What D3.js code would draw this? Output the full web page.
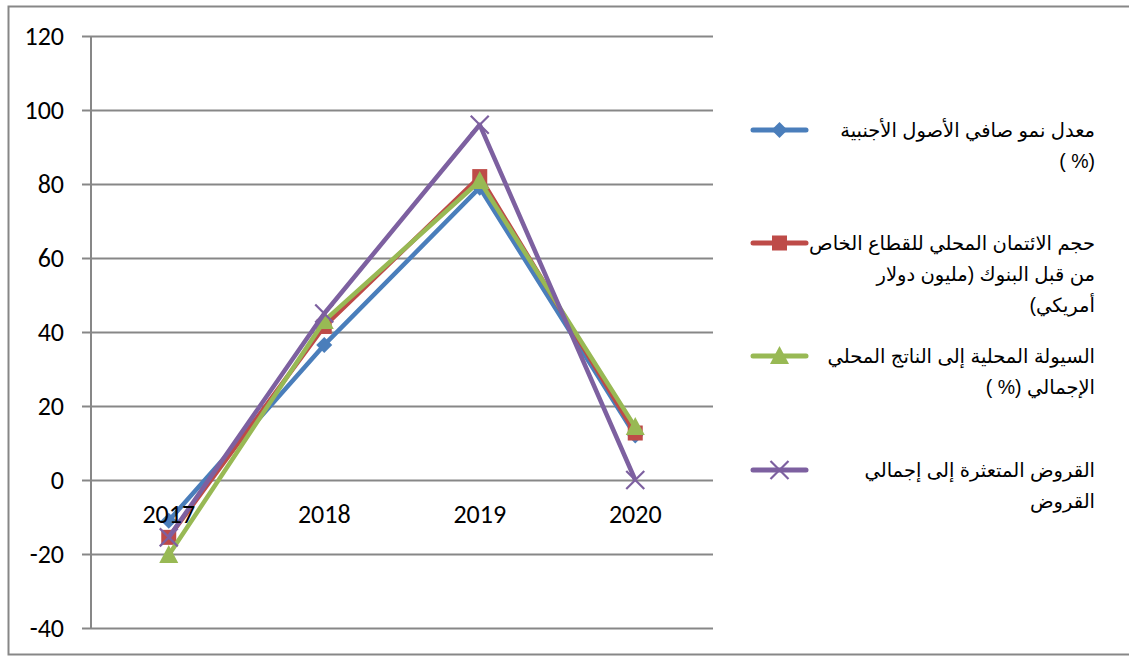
<!DOCTYPE html>
<html>
<head>
<meta charset="utf-8">
<script src="https://cdn.jsdelivr.net/npm/d3@7"></script>
<style>
  html, body { margin: 0; padding: 0; background: #fff; }
  svg { display: block; }
</style>
</head>
<body>
<svg id="chart" width="1129" height="657"></svg>
<script>
// Years on the category axis
const years = ["2017", "2018", "2019", "2020"];
// Y axis ticks
const yTicks = [-40, -20, 0, 20, 40, 60, 80, 100, 120];

// Series values, one array per indicator
const netForeignAssets = [-11, 36.5, 79, 12];
const privateCredit = [-15.5, 41.5, 82, 12.7];
const liquidityToGdp = [-20.3, 43, 80.8, 14.3];
const nplRatio = [-15.5, 45, 96, 0];

// Legend names (each entry is a list of wrapped lines)
const names = [
  ["معدل نمو صافي الأصول الأجنبية", "(% )"],
  ["حجم الائتمان المحلي للقطاع الخاص", "من قبل البنوك (مليون دولار", "أمريكي)"],
  ["السيولة المحلية إلى الناتج المحلي", "الإجمالي (% )"],
  ["القروض المتعثرة إلى إجمالي", "القروض"]
];

const series = [
  { name: names[0], values: netForeignAssets, color: "#4A7EBB", marker: "diamond" },
  { name: names[1], values: privateCredit, color: "#BE4B48", marker: "square" },
  { name: names[2], values: liquidityToGdp, color: "#98B954", marker: "triangle" },
  { name: names[3], values: nplRatio, color: "#7D60A0", marker: "cross" }
];

const svg = d3.select("#chart");
const gridColor = "#878787";
const numFont = "Carlito, Calibri, Lato, sans-serif";

// Outer frame
svg.append("rect")
  .attr("x", 8.5).attr("y", 6.5)
  .attr("width", 1140).attr("height", 648)
  .attr("fill", "none").attr("stroke", gridColor).attr("stroke-width", 2);

const plot = { left: 91, right: 713, top: 36, bottom: 628 };

const x = d3.scaleBand().domain(years).range([plot.left, plot.right]);
const y = d3.scaleLinear().domain([-40, 120]).range([plot.bottom, plot.top]);

// Horizontal gridlines with tick marks on the left
const yAxis = d3.axisLeft(y)
  .tickValues(yTicks)
  .tickFormat(d => String(d))
  .tickSize(-(plot.right - plot.left))
  .tickPadding(27);
const gy = svg.append("g").attr("transform", `translate(${plot.left},0)`).call(yAxis);
gy.select(".domain").remove();
gy.selectAll(".tick line")
  .attr("x1", -9)
  .attr("stroke", gridColor).attr("stroke-width", 2);
gy.selectAll(".tick text")
  .attr("font-family", numFont)
  .attr("font-size", 26).attr("fill", "#000");

// Vertical axis line
svg.append("line")
  .attr("x1", plot.left).attr("x2", plot.left)
  .attr("y1", plot.top).attr("y2", plot.bottom)
  .attr("stroke", gridColor).attr("stroke-width", 2);

const cx = d => x(d) + x.bandwidth() / 2;

function drawMarker(g, type, px, py, color) {
  if (type === "diamond") {
    g.append("path")
      .attr("d", `M${px},${py - 8}L${px + 8},${py}L${px},${py + 8}L${px - 8},${py}Z`)
      .attr("fill", color);
  } else if (type === "square") {
    g.append("rect")
      .attr("x", px - 7.5).attr("y", py - 7.5).attr("width", 15).attr("height", 15)
      .attr("fill", color);
  } else if (type === "triangle") {
    g.append("path")
      .attr("d", `M${px},${py - 10}L${px + 9.5},${py + 8}L${px - 9.5},${py + 8}Z`)
      .attr("fill", color);
  } else if (type === "cross") {
    g.append("path")
      .attr("d", `M${px - 9},${py - 9}L${px + 9},${py + 9}M${px - 9},${py + 9}L${px + 9},${py - 9}`)
      .attr("stroke", color).attr("stroke-width", 2.2).attr("fill", "none");
  }
}

const line = d3.line().x((d, i) => cx(years[i])).y(d => y(d));

series.forEach(s => {
  const g = svg.append("g");
  g.append("path")
    .attr("d", line(s.values))
    .attr("fill", "none")
    .attr("stroke", s.color)
    .attr("stroke-width", 4.5)
    .attr("stroke-linejoin", "round");
  s.values.forEach((v, i) => drawMarker(g, s.marker, cx(years[i]), y(v), s.color));
});

// Category axis sitting on the zero line
const xAxis = d3.axisBottom(x).tickSize(0).tickPadding(25);
const gx = svg.append("g").attr("transform", `translate(0,${y(0)})`).call(xAxis);
gx.select(".domain").remove();
gx.selectAll(".tick text")
  .attr("font-family", numFont)
  .attr("font-size", 26).attr("fill", "#000");

// Legend
const legendTop = [130, 243, 356, 470];
const lineHeight = 31;
series.forEach((s, k) => {
  const g = svg.append("g");
  const ly = legendTop[k];
  g.append("line")
    .attr("x1", 753).attr("x2", 806)
    .attr("y1", ly).attr("y2", ly)
    .attr("stroke", s.color).attr("stroke-width", 5).attr("stroke-linecap", "round");
  drawMarker(g, s.marker, 779.5, ly, s.color);
  s.name.forEach((t, j) => {
    g.append("text")
      .attr("x", 1095)
      .attr("y", ly + j * lineHeight)
      .attr("dy", "0.35em")
      .attr("direction", "rtl")
      .attr("text-anchor", "start")
      .attr("font-family", "Arial, 'Liberation Sans', 'DejaVu Sans', sans-serif")
      .attr("font-size", 19.5)
      .attr("fill", "#000")
      .text(t);
  });
});
</script>
</body>
</html>
